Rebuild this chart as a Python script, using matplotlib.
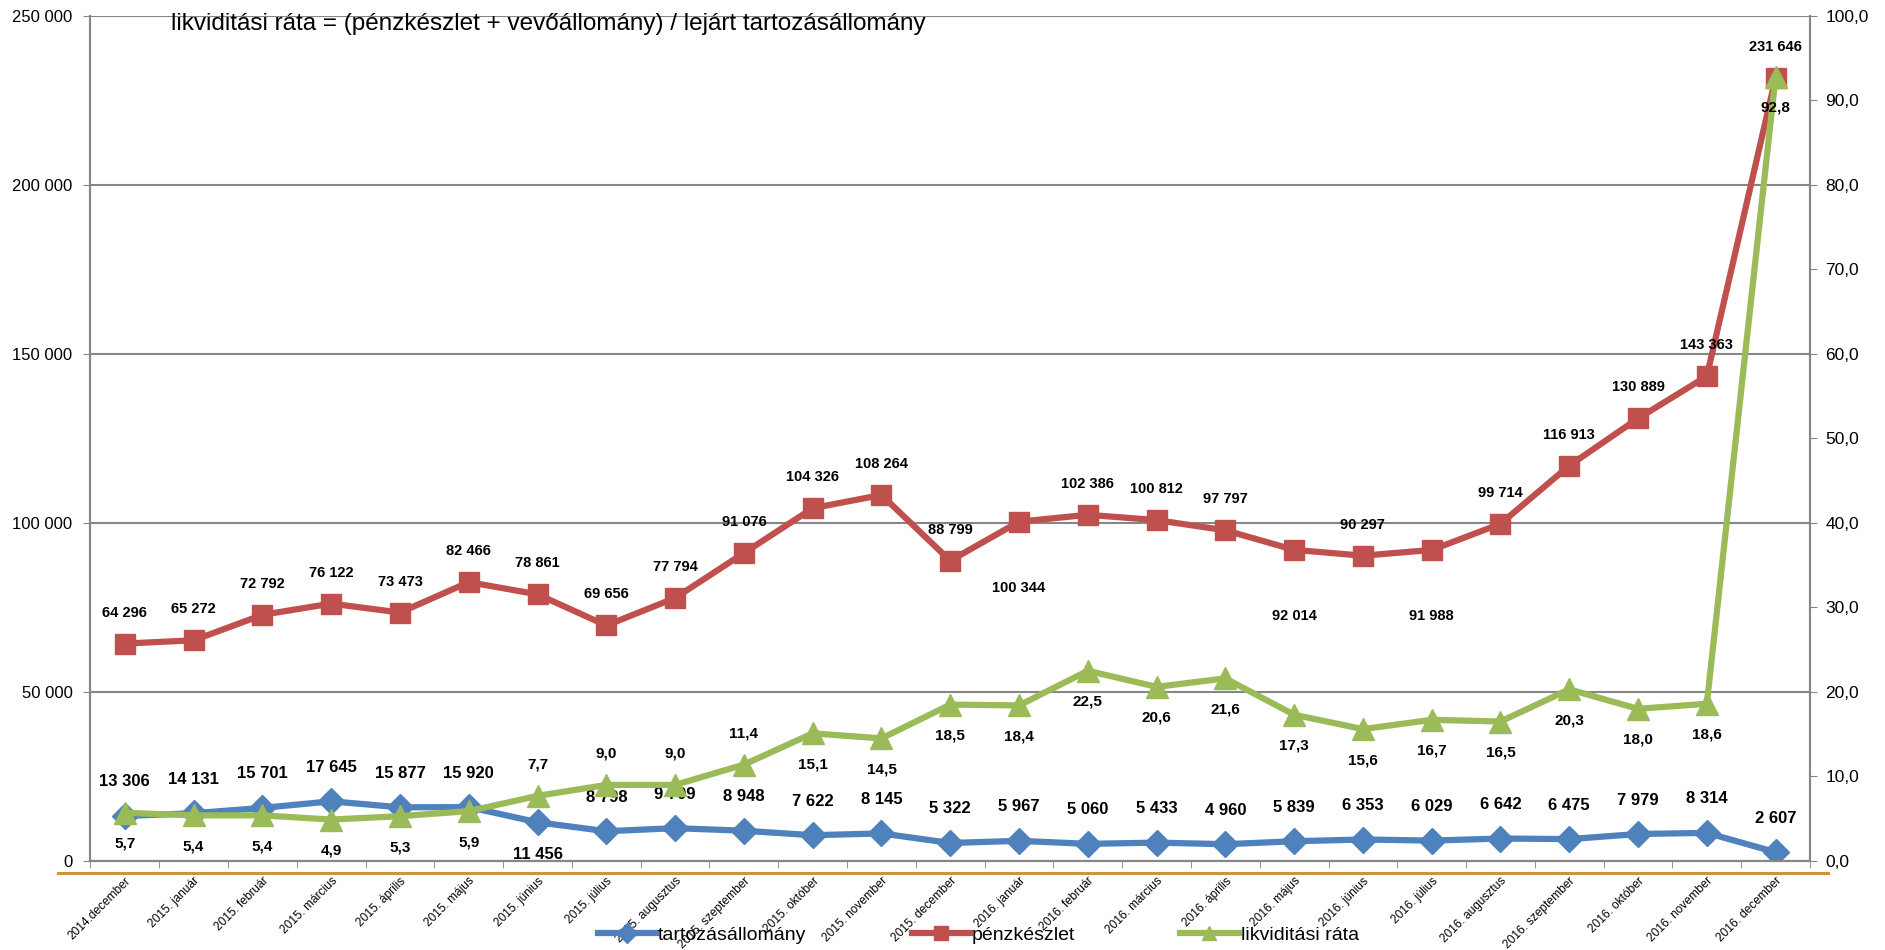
import matplotlib
matplotlib.use("Agg")
from matplotlib import pyplot as plt
from matplotlib.lines import Line2D
import numpy as np

plt.rcParams['font.family'] = ['Liberation Sans', 'DejaVu Sans']

months = ["2014.december", "2015. január", "2015. február", "2015. március", "2015. április",
          "2015. május", "2015. június", "2015. július", "2015. augusztus", "2015. szeptember",
          "2015. október", "2015. november", "2015. december", "2016. január", "2016. február",
          "2016. március", "2016. április", "2016. május", "2016. június", "2016. július",
          "2016. augusztus", "2016. szeptember", "2016. október", "2016. november", "2016. december"]

tartozas = [13306, 14131, 15701, 17645, 15877, 15920, 11456, 8798, 9709, 8948, 7622, 8145, 5322,
            5967, 5060, 5433, 4960, 5839, 6353, 6029, 6642, 6475, 7979, 8314, 2607]
penzkeszlet = [64296, 65272, 72792, 76122, 73473, 82466, 78861, 69656, 77794, 91076, 104326, 108264,
               88799, 100344, 102386, 100812, 97797, 92014, 90297, 91988, 99714, 116913, 130889,
               143363, 231646]
rata = [5.7, 5.4, 5.4, 4.9, 5.3, 5.9, 7.7, 9.0, 9.0, 11.4, 15.1, 14.5, 18.5, 18.4, 22.5, 20.6, 21.6,
        17.3, 15.6, 16.7, 16.5, 20.3, 18.0, 18.6, 92.8]

# label positions: 'a' above, 'b' below
tartozas_pos = ['a'] * 25
tartozas_pos[6] = 'b'
penz_pos = ['a'] * 25
for i in (13, 17, 19):
    penz_pos[i] = 'b'
rata_pos = ['b'] * 25
for i in (6, 7, 8, 9):
    rata_pos[i] = 'a'

BLUE = "#4F81BD"
RED = "#C0504D"
GREEN = "#9BBB59"
GRID = "#868686"


def fmt_int(v):
    return f"{v:,.0f}".replace(",", " ")


def fmt_dec(v):
    return f"{v:.1f}".replace(".", ",")


fig = plt.figure(figsize=(18.85, 9.5), dpi=100)
ax = fig.add_axes([0.048, 0.0937, 0.9122, 0.8898])
ax2 = ax.twinx()

x = np.arange(len(months))

ax.plot(x, tartozas, color=BLUE, lw=4.5, marker='D', ms=13, zorder=3)
ax.plot(x, penzkeszlet, color=RED, lw=4.5, marker='s', ms=15, zorder=3)
ax2.plot(x, rata, color=GREEN, lw=4.5, marker='^', ms=16, zorder=3)

ax.set_xlim(-0.5, len(months) - 0.5)
ax.set_ylim(0, 250000)
ax2.set_ylim(0, 100)
ax.set_yticks(np.arange(0, 250001, 50000))
ax.set_yticklabels([fmt_int(v) for v in np.arange(0, 250001, 50000)], fontsize=12)
ax2.set_yticks(np.arange(0, 101, 10))
ax2.set_yticklabels([fmt_dec(v) for v in np.arange(0, 101, 10)], fontsize=12.5)

ax.yaxis.grid(True, color=GRID, lw=1.5)
ax.set_axisbelow(True)

ax.set_xticks(x)
ax.set_xticklabels(months, rotation=45, ha='right', va='top', rotation_mode='anchor',
                   fontsize=8.6)
ax.set_xticks(np.arange(-0.5, len(months)), minor=True)
ax.tick_params(axis='x', which='major', length=0, pad=10)
ax.tick_params(axis='x', which='minor', length=5, color=GRID)
ax.tick_params(axis='y', length=5, color=GRID, pad=8)
ax2.tick_params(axis='y', length=5, color=GRID, pad=6)

for a in (ax, ax2):
    a.spines['top'].set_visible(False)
    for s in ('left', 'right', 'bottom'):
        a.spines[s].set_color(GRID)
        a.spines[s].set_linewidth(1.5)

# data labels
for i, v in enumerate(tartozas):
    dy = 34 if tartozas_pos[i] == 'a' else -32
    ax.annotate(fmt_int(v), (i, v), xytext=(0, dy), textcoords='offset pixels',
                ha='center', va='center', fontsize=12, fontweight='bold')
for i, v in enumerate(penzkeszlet):
    dy = 31 if penz_pos[i] == 'a' else -66
    ax.annotate(fmt_int(v), (i, v), xytext=(0, dy), textcoords='offset pixels',
                ha='center', va='center', fontsize=10.5, fontweight='bold')
for i, v in enumerate(rata):
    dy = 31 if rata_pos[i] == 'a' else -31
    ax2.annotate(fmt_dec(v), (i, v), xytext=(0, dy), textcoords='offset pixels',
                 ha='center', va='center', fontsize=11, fontweight='bold')

fig.text(0.0905, 0.986, "likviditási ráta = (pénzkészlet + vevőállomány) / lejárt tartozásállomány",
         fontsize=17.5, va='top', ha='left')

# gold rule below the plot
fig.add_artist(Line2D([0.031, 0.97], [0.0814, 0.0814], color="#C8963E", lw=2.2))

handles = [Line2D([], [], color=BLUE, lw=4.5, marker='D', ms=10),
           Line2D([], [], color=RED, lw=4.5, marker='s', ms=10),
           Line2D([], [], color=GREEN, lw=4.5, marker='^', ms=10)]
fig.legend(handles, ["tartozásállomány", "pénzkészlet", "likviditási ráta"],
           loc='center', bbox_to_anchor=(0.519, 0.016), ncol=3, frameon=False, fontsize=14,
           handlelength=3.0, handletextpad=0.1, columnspacing=5.4)

fig.savefig("out.png", dpi=100)
